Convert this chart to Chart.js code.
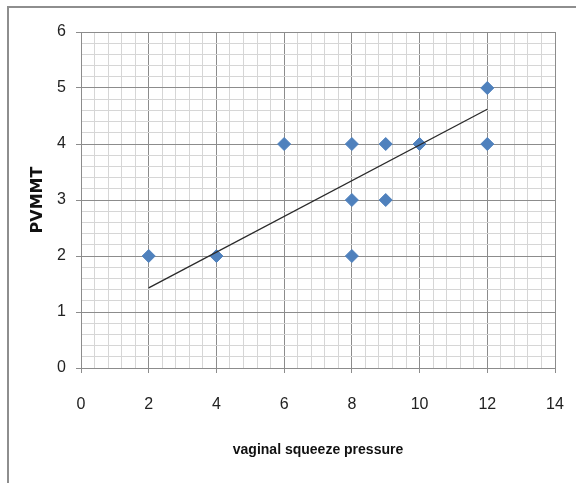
<!DOCTYPE html>
<html>
<head>
<meta charset="utf-8">
<script src="https://cdn.jsdelivr.net/npm/chart.js@4.4.1/dist/chart.umd.min.js"></script>
<style>
  html, body { margin: 0; padding: 0; background: #ffffff; }
  #wrap { position: relative; width: 576px; height: 483px; overflow: hidden; background: #fff; }
  #frame { position: absolute; left: 7px; top: 6px; width: 700px; height: 600px;
           border-left: 2px solid #8e8e8e; border-top: 2px solid #8e8e8e; }
  canvas { position: absolute; left: 0; top: 0; }
</style>
</head>
<body>
<div id="wrap">
  <div id="frame"></div>
  <canvas id="c" width="576" height="483"></canvas>
</div>
<script>
// Data
const squeezePressure = [2, 4, 6, 8, 8, 8, 9, 9, 10, 12, 12];
const pvmmt           = [2, 2, 4, 4, 3, 2, 4, 3, 4, 5, 4];
// Linear trendline end points as drawn in the picture
const trendX = [2, 12];
const trendY = [1.43, 4.62];

const xTitle = 'vaginal squeeze pressure';
const yTitle = 'PVMMT';

const xMin = 0, xMax = 14, xMajor = 2, xMinor = 0.4;
const yMin = 0, yMax = 6, yMajor = 1, yMinor = 0.2;

const majorColor = '#8c8c8c';
const minorColor = '#d6d6d6';
const tickFont = { family: "'Liberation Sans', Arial, sans-serif", size: 16 };

function isMajor(v, step) {
  return Math.abs(v / step - Math.round(v / step)) < 1e-6;
}

const scatterPts = squeezePressure.map((x, i) => ({ x: x, y: pvmmt[i] }));
const trendPts = trendX.map((x, i) => ({ x: x, y: trendY[i] }));

Chart.defaults.font.family = tickFont.family;

new Chart(document.getElementById('c'), {
  type: 'scatter',
  data: {
    datasets: [
      {
        type: 'line',
        data: trendPts,
        borderColor: '#2a2a2a',
        borderWidth: 1.3,
        pointRadius: 0,
        fill: false,
        order: 0
      },
      {
        type: 'scatter',
        data: scatterPts,
        pointStyle: 'rectRot',
        pointRadius: 6.5,
        pointBackgroundColor: '#4f81bd',
        pointBorderColor: '#4f81bd',
        pointBorderWidth: 1,
        order: 1
      }
    ]
  },
  options: {
    responsive: false,
    devicePixelRatio: 1,
    animation: false,
    events: [],
    layout: { padding: { top: 32, right: 21, left: 0, bottom: 0 } },
    plugins: { legend: { display: false }, tooltip: { enabled: false } },
    scales: {
      x: {
        type: 'linear',
        min: xMin, max: xMax,
        afterFit: (s) => { s.height = 115; s.paddingLeft = 0; s.paddingRight = 0; },
        ticks: {
          stepSize: xMinor,
          maxTicksLimit: 1000,
          autoSkip: false,
          maxRotation: 0,
          padding: 22,
          color: '#222222',
          font: tickFont,
          callback: (v) => isMajor(v, xMajor) ? String(Math.round(v)) : ''
        },
        grid: {
          color: (ctx) => isMajor(ctx.tick.value, xMajor) ? majorColor : minorColor,
          tickColor: (ctx) => isMajor(ctx.tick.value, xMajor) ? majorColor : 'rgba(0,0,0,0)',
          tickLength: 5,
          lineWidth: 1
        },
        border: { color: majorColor, width: 1 },
        title: {
          display: true,
          text: xTitle,
          color: '#111111',
          font: { family: "'Liberation Sans', Arial, sans-serif", size: 14, weight: 'bold' },
          padding: { top: 0, bottom: 24 }
        }
      },
      y: {
        type: 'linear',
        min: yMin, max: yMax,
        afterFit: (s) => { s.width = 81; },
        ticks: {
          stepSize: yMinor,
          maxTicksLimit: 1000,
          autoSkip: false,
          padding: 10,
          color: '#222222',
          font: tickFont,
          callback: (v) => isMajor(v, yMajor) ? String(Math.round(v)) : ''
        },
        grid: {
          color: (ctx) => isMajor(ctx.tick.value, yMajor) ? majorColor : minorColor,
          tickColor: (ctx) => isMajor(ctx.tick.value, yMajor) ? majorColor : 'rgba(0,0,0,0)',
          tickLength: 5,
          lineWidth: 1
        },
        border: { color: majorColor, width: 1 },
        title: {
          display: true,
          text: yTitle,
          color: '#111111',
          font: { family: "'DejaVu Sans', sans-serif", size: 16, weight: 'bold' },
          padding: { top: 28, bottom: 0 }
        }
      }
    }
  }
});
</script>
</body>
</html>
